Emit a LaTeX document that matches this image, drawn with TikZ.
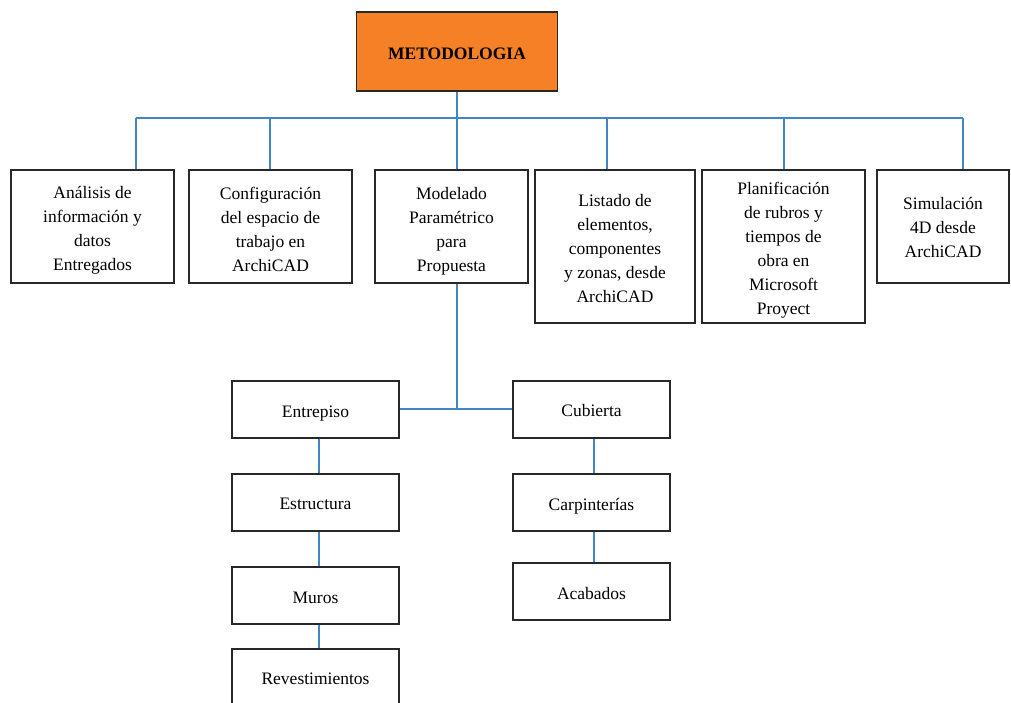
\documentclass[tikz,border=0pt]{standalone}
\usepackage{fontspec}
\setmainfont{Liberation Serif}
\definecolor{metorange}{RGB}{246,128,38}
\definecolor{linkblue}{RGB}{66,134,194}
\definecolor{boxline}{RGB}{40,40,40}
\begin{document}
\begin{tikzpicture}[x=1pt,y=-1pt,
  box/.style={draw=boxline, line width=1.1pt, fill=white, inner sep=0pt},
  txt/.style={align=center, inner sep=0pt, font=\fontsize{17.5}{24}\selectfont},
  link/.style={draw=linkblue, line width=1.4pt}]
\useasboundingbox (0,0) rectangle (1011,702);
\clip (0,0) rectangle (1011,702);

% root
\node[box, fill=metorange, minimum width=201pt, minimum height=79pt] (meto) at (457,51.5) {};
\node[txt, font=\fontsize{17.5}{24}\selectfont\bfseries] (metot) at ([yshift=-2pt]meto.center) {METODOLOGIA};

% first level
\node[box, minimum width=163pt, minimum height=113pt] (b1) at (92.5,226.5) {};
\node[box, minimum width=163pt, minimum height=113pt] (b2) at (270.5,226.5) {};
\node[box, minimum width=153pt, minimum height=113pt] (b3) at (451.5,226.5) {};
\node[box, minimum width=160pt, minimum height=153pt] (b4) at (615,246.5) {};
\node[box, minimum width=163pt, minimum height=153pt] (b5) at (783.5,246.5) {};
\node[box, minimum width=132pt, minimum height=113pt] (b6) at (943,226.5) {};

\node[txt] (b1t) at ([yshift=-4pt]b1.center) {Análisis de\\información y\\datos\\Entregados};
\node[txt] (b2t) at ([yshift=-2.5pt]b2.center) {Configuración\\del espacio de\\trabajo en\\ArchiCAD};
\node[txt] (b3t) at ([yshift=-5pt]b3.center) {Modelado\\Paramétrico\\para\\Propuesta};
\node[txt] (b4t) at ([yshift=-2pt]b4.center) {Listado de\\elementos,\\componentes\\y zonas, desde\\ArchiCAD};
\node[txt] (b5t) at ([yshift=-4pt]b5.center) {Planificación\\de rubros y\\tiempos de\\obra en\\Microsoft\\Proyect};
\node[txt] (b6t) at ([yshift=-1pt]b6.center) {Simulación\\4D desde\\ArchiCAD};

% second level
\node[box, minimum width=167pt, minimum height=57pt] (ent) at (315.5,409.5) {};
\node[box, minimum width=167pt, minimum height=57pt] (est) at (315.5,502.5) {};
\node[box, minimum width=167pt, minimum height=57pt] (mur) at (315.5,595.5) {};
\node[box, minimum width=167pt, minimum height=57pt] (rev) at (315.5,677.5) {};
\node[box, minimum width=157pt, minimum height=57pt] (cub) at (591.5,409.5) {};
\node[box, minimum width=157pt, minimum height=57pt] (car) at (591.5,502.5) {};
\node[box, minimum width=157pt, minimum height=57pt] (aca) at (591.5,591.5) {};

\node[txt] (entt) at ([yshift=-4pt]ent.center) {Entrepiso};
\node[txt] (estt) at ([yshift=-1pt]est.center) {Estructura};
\node[txt] (murt) at ([yshift=-2pt]mur.center) {Muros};
\node[txt] (revt) at ([yshift=-1pt]rev.center) {Revestimientos};
\node[txt] (cubt) at ([yshift=-1pt]cub.center) {Cubierta};
\node[txt] (cart) at ([yshift=-4pt]car.center) {Carpinterías};
\node[txt] (acat) at ([yshift=-2pt]aca.center) {Acabados};

% bus taps
\coordinate (t1) at (136,118);
\coordinate (t2) at (270,118);
\coordinate (t3) at (457,118);
\coordinate (t4) at (607,118);
\coordinate (t5) at (784,118);
\coordinate (t6) at (963,118);
\coordinate (j) at (457,409);

\draw[link] (t3 |- meto.south) -- (t3);
\draw[link] (t1) -- (t6);
\draw[link] (t1) -- (t1 |- b1.north);
\draw[link] (t2) -- (t2 |- b2.north);
\draw[link] (t3) -- (t3 |- b3.north);
\draw[link] (t4) -- (t4 |- b4.north);
\draw[link] (t5) -- (t5 |- b5.north);
\draw[link] (t6) -- (t6 |- b6.north);

\draw[link] (j |- b3.south) -- (j);
\draw[link] (ent.east |- j) -- (cub.west |- j);

\coordinate (lc) at (319,0);
\coordinate (rc) at (594,0);
\draw[link] (lc |- ent.south) -- (lc |- est.north);
\draw[link] (lc |- est.south) -- (lc |- mur.north);
\draw[link] (lc |- mur.south) -- (lc |- rev.north);
\draw[link] (rc |- cub.south) -- (rc |- car.north);
\draw[link] (rc |- car.south) -- (rc |- aca.north);
\end{tikzpicture}
\end{document}
